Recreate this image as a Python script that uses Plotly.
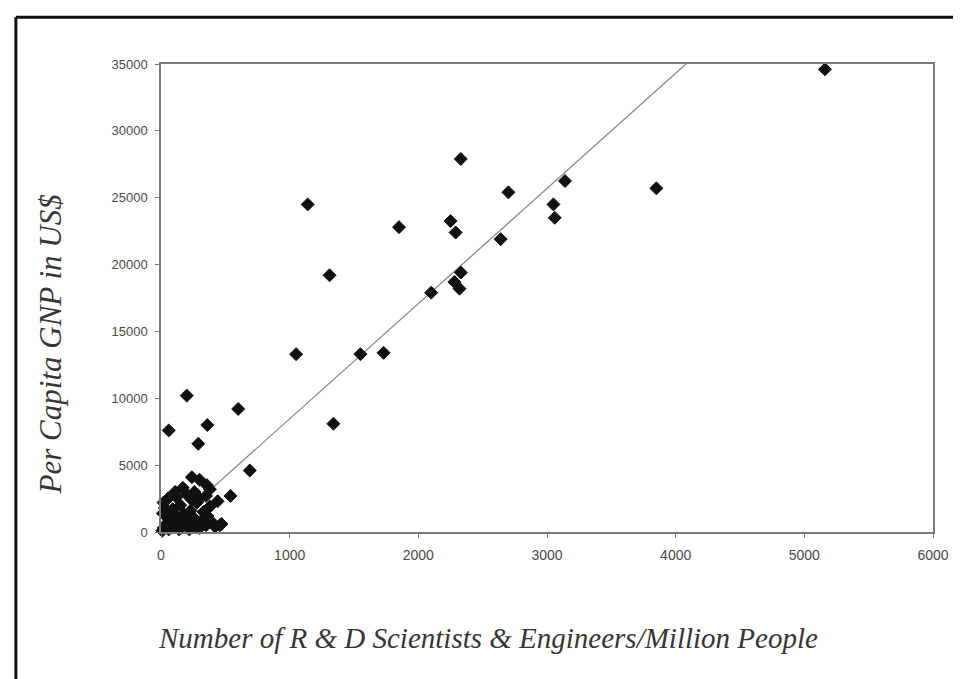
import plotly.graph_objects as go

# Data (R&D scientists & engineers per million people vs per-capita GNP US$)
rd_per_million = [
    5160, 3850, 3140, 2700, 2330, 3050, 3060, 2640, 2250, 2290, 1850, 1140,
    1310, 2330, 2280, 2320, 2100, 1050, 1550, 1730, 1340, 690, 600, 200,
    60, 360, 290, 540,
    240, 357, 300, 380, 350, 300, 280, 200, 150, 54, 30, 15, 100, 180, 250,
    320, 400, 470, 350, 270, 200, 130, 80, 40, 20, 10, 60, 150, 220, 300,
    100, 380, 230, 50, 440, 457,
    120, 170, 260, 90, 330, 210, 140, 280, 420, 360, 110, 20, 240,
]
gnp_per_capita = [
    34600, 25700, 26250, 25400, 27900, 24500, 23500, 21900, 23250, 22400, 22800, 24500,
    19200, 19400, 18700, 18200, 17900, 13300, 13300, 13400, 8100, 4600, 9200, 10200,
    7600, 8000, 6600, 2700,
    4100, 3500, 3900, 3200, 2700, 2500, 2200, 2800, 2000, 2500, 1800, 1400, 1400, 1300, 1100,
    900, 700, 600, 500, 400, 600, 800, 900, 600, 300, 100, 200, 300, 200, 300,
    500, 1900, 1600, 1100, 2300, 500,
    2600, 3300, 3000, 1700, 1500, 1000, 200, 700, 400, 1200, 3000, 2200, 2400,
]

# Trend line end points
trend_x = [50, 4080]
trend_y = [280, 35000]

x_ticks = [0, 1000, 2000, 3000, 4000, 5000, 6000]
x_tick_labels = ["0", "1000", "2000", "3000", "4000", "5000", "6000"]
y_ticks = [0, 5000, 10000, 15000, 20000, 25000, 30000, 35000]
y_tick_labels = ["0", "5000", "10000", "15000", "20000", "25000", "30000", "35000"]

fig = go.Figure()
fig.add_trace(go.Scatter(
    x=trend_x, y=trend_y, mode="lines",
    line=dict(color="#8a8a8a", width=1.3), showlegend=False, hoverinfo="skip",
))
fig.add_trace(go.Scatter(
    x=rd_per_million, y=gnp_per_capita, mode="markers",
    marker=dict(symbol="diamond", size=10, color="#111111",
                line=dict(color="#111111", width=1)),
    showlegend=False, cliponaxis=False,
))

axis_common = dict(
    showgrid=False, zeroline=False, showline=True, mirror=True,
    linecolor="#7a7a7a", linewidth=1.5,
    ticks="outside", ticklen=4, tickcolor="#7a7a7a", tickwidth=1,
)

# page body has an 8px margin, so the figure is shifted by 8px
fig.update_layout(
    width=953, height=671,
    margin=dict(l=153, r=26, t=56, b=147),
    paper_bgcolor="white", plot_bgcolor="white",
    xaxis=dict(range=[0, 6000], tickvals=x_ticks, ticktext=x_tick_labels,
               ticklabelstandoff=5,
               tickfont=dict(family="Liberation Sans, Arial, sans-serif", size=14, color="#4a4a4a"),
               **axis_common),
    yaxis=dict(range=[0, 35000], tickvals=y_ticks, ticktext=y_tick_labels,
               ticklabelstandoff=5,
               tickfont=dict(family="Liberation Sans, Arial, sans-serif", size=13, color="#4a4a4a"),
               **axis_common),
    shapes=[
        dict(type="line", xref="paper", yref="paper", x0=-0.188, x1=1.2, y0=1.1, y1=1.1,
             line=dict(color="#111111", width=3)),
        dict(type="line", xref="paper", yref="paper", x0=-0.188, x1=-0.188, y0=1.1, y1=-0.4,
             line=dict(color="#111111", width=3)),
    ],
    annotations=[
        dict(text="<i>Number of R &amp; D Scientists &amp; Engineers/Million People</i>",
             xref="paper", yref="paper", x=0.424, y=-0.226, xanchor="center", yanchor="middle",
             showarrow=False,
             font=dict(family="Liberation Serif, Times New Roman, serif", size=29, color="#363636")),
        dict(text="<i>Per Capita GNP in US$</i>",
             xref="paper", yref="paper", x=-0.143, y=0.40, xanchor="center", yanchor="middle",
             textangle=-90, showarrow=False,
             font=dict(family="Liberation Serif, Times New Roman, serif", size=31, color="#363636")),
    ],
)

fig.write_html("out.html")
